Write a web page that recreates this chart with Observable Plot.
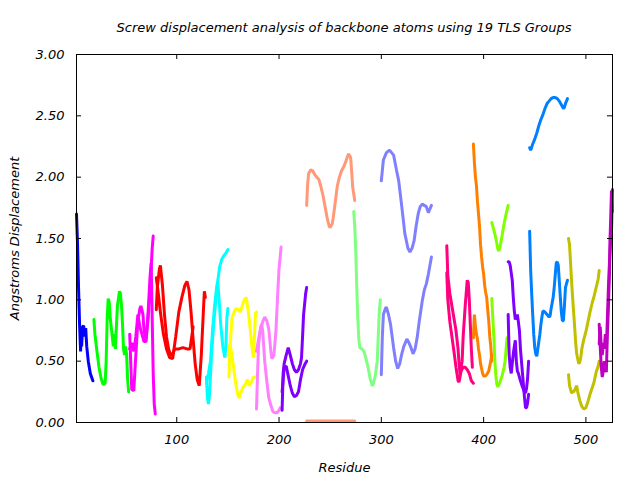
<!DOCTYPE html>
<html>
<head>
<meta charset="utf-8">
<script src="https://cdn.jsdelivr.net/npm/d3@7"></script>
<script src="https://cdn.jsdelivr.net/npm/@observablehq/plot@0.6"></script>
<style>
  html, body { margin: 0; padding: 0; background: #fff; }
  #title { width: 640px; box-sizing: border-box; padding: 20px 28px 0 76px; height: 40px;
           text-align: center; font: italic 13px "DejaVu Sans", sans-serif; color: #000; line-height: 15px; }
</style>
</head>
<body>
<div id="title">Screw displacement analysis of backbone atoms using 19 TLS Groups</div>
<div id="chart"></div>
<script>
// ---- Data (residue, displacement in Å) ----
const xTicks = [100, 200, 300, 400, 500];
const yTicks = [0, 0.5, 1.0, 1.5, 2.0, 2.5, 3.0];
const groupNames = ["TLS 1","TLS 2","TLS 3","TLS 4","TLS 5","TLS 6","TLS 7","TLS 8","TLS 9","TLS 10",
                    "TLS 11","TLS 12","TLS 13","TLS 14","TLS 15","TLS 16","TLS 17","TLS 18"];
const groupColors = ["#0000ff","#00ff00","#ff00ff","#ff0000","#00ffff","#ffff00","#ff80ff","#8000ff","#ff9978",
                     "#80ff80","#8080ff","#ff0080","#ff8000","#80ff00","#8000ff","#0080ff","#c0c000","#c000c0"];

const g1a = [[2,1.70],[3,1.46],[4,1.10],[5,0.80],[6,0.58],[6.5,0.75],[7,0.62],[8,0.78],[9,0.79],[10,0.70],[11,0.77],[12,0.62],[13.5,0.50],[15.5,0.40],[18,0.34]];
const g2a = [[19,0.84],[20,0.72],[22,0.58],[24,0.45],[26,0.36],[28,0.31],[30,0.32],[31,0.50],[32,0.85],[33,1.01],[34,0.98],[35,0.85],[37,0.70],[38,0.62],[39,0.72],[40,0.60],[41,0.78],[42,0.95],[44,1.07],[45,1.05],[46,0.95],[47,0.80],[48,0.60],[49,0.55],[50,0.62],[51,0.55],[52,0.35],[53,0.25]];
const g3a = [[54,0.72],[55,0.50],[56,0.27],[58,0.26],[60,0.55],[62,0.83],[64,0.93],[65,0.95],[67,0.88],[68,0.75],[70,0.68],[72,0.85],[74,1.10],[76,1.42],[77,1.52]];
const g3b = [[54,0.60],[56,0.65],[58,0.58],[60,0.70],[62,0.88],[64,0.78],[66,0.72],[68,0.66],[70,0.66],[72,0.90],[74,1.20],[75,1.30],[76,0.85],[77,0.40],[78,0.15],[79,0.07]];
const g4a = [[80,0.92],[81,1.10],[83,1.25],[84,1.28],[86,1.12],[88,0.88],[90,0.70],[92,0.60],[94,0.55],[96,0.56],[98,0.60],[102,0.60],[106,0.61],[110,0.60],[113,0.60],[115,0.72],[116,0.78]];
const g4b = [[80,1.18],[82,1.05],[84,0.90],[87,0.72],[90,0.60],[93,0.53],[96,0.52],[99,0.70],[102,0.90],[105,1.02],[108,1.12],[110,1.15],[112,1.08],[114,0.90],[116,0.68],[118,0.48],[120,0.35],[122,0.30],[124,0.55],[126,0.90],[127,1.07],[128,1.02]];
const g5a = [[129,0.37],[130,0.20],[131,0.15],[132,0.22],[134,0.55],[136,0.80],[138,0.98],[140,1.15],[142,1.27],[144,1.33],[146,1.36],[148,1.38],[150,1.41]];
const g5b = [[129,0.32],[131,0.40],[133,0.50],[135,0.75],[137,0.95],[139,1.10],[140,1.15],[141,1.05],[143,0.80],[145,0.62],[147,0.53],[148,0.62],[149,0.85],[150,0.93]];
const g6a = [[151,0.37],[152,0.60],[154,0.85],[156,0.90],[158,0.93],[160,0.92],[162,0.90],[164,0.95],[166,1.00],[168,1.02],[170,0.90],[172,0.75],[174,0.58],[175,0.53],[176,0.70],[177,0.89],[178,0.90]];
const g6b = [[151,0.55],[152,0.64],[154,0.55],[156,0.42],[158,0.30],[160,0.22],[161,0.20],[163,0.25],[165,0.29],[167,0.31],[169,0.35],[171,0.30],[173,0.33],[175,0.37],[177,0.37]];
const g7a = [[178,0.11],[179,0.40],[180,0.64],[182,0.78],[183,0.80],[184,0.75],[186,0.50],[188,0.34],[190,0.20],[192,0.14],[194,0.09],[196,0.08],[198,0.08],[200,0.10],[201,0.12]];
const g7b = [[178,0.58],[180,0.68],[182,0.76],[184,0.82],[186,0.86],[188,0.83],[190,0.76],[192,0.58],[193,0.52],[195,0.55],[197,0.75],[199,1.10],[200,1.25],[202,1.43]];
const g8a = [[203,0.10],[204,0.40],[205,0.48],[207,0.55],[209,0.61],[211,0.55],[213,0.48],[215,0.43],[217,0.41],[219,0.43],[221,0.48],[222,0.53],[223,0.70],[224,0.88],[226,1.05],[227,1.10]];
const g8b = [[203,0.25],[205,0.45],[207,0.46],[209,0.38],[211,0.30],[213,0.24],[215,0.21],[217,0.22],[219,0.25],[221,0.35],[223,0.43],[225,0.47],[227,0.50]];
const g9a = [[227,1.77],[228,1.95],[229,2.03],[231,2.06],[233,2.05],[235,2.02],[237,2.00],[239,1.98],[241,1.92],[243,1.85],[245,1.76],[247,1.67],[249,1.60],[250,1.59],[252,1.62],[253,1.67],[255,1.80],[257,1.93],[259,2.00],[261,2.05],[263,2.08],[265,2.12],[267,2.17],[268,2.19],[270,2.16],[271,2.05],[272,1.92],[274,1.81]];
const g9b = [[227,0.00],[274,0.00]];
const g10a = [[273,1.72],[274,1.60],[275,1.40],[276,1.10],[277,0.85],[278,0.68],[279,0.61],[281,0.60],[283,0.58],[285,0.52],[287,0.45],[289,0.36],[291,0.30],[292,0.31],[294,0.38],[296,0.50],[297,0.70],[298,0.90],[299,1.00]];
const g11a = [[300,1.97],[302,2.14],[305,2.20],[308,2.22],[310,2.20],[312,2.18],[315,2.05],[317,1.97],[320,1.76],[323,1.54],[326,1.42],[328,1.39],[330,1.42],[332,1.48],[334,1.60],[336,1.70],[338,1.76],[340,1.78],[342,1.77],[344,1.76],[346,1.71],[347,1.73],[349,1.77]];
const g11b = [[300,0.39],[301,0.70],[302,0.88],[304,0.93],[305,0.94],[307,0.88],[309,0.80],[312,0.61],[314,0.50],[316,0.44],[318,0.48],[320,0.56],[322,0.62],[325,0.68],[327,0.65],[329,0.61],[331,0.56],[333,0.60],[335,0.69],[337,0.82],[340,0.99],[342,1.08],[344,1.13],[346,1.21],[349,1.35]];
const g12a = [[364,1.44],[365,1.20],[367,1.05],[369,0.95],[371,0.85],[373,0.75],[375,0.60],[376,0.48],[377,0.39],[378,0.45],[379,0.50],[380,0.70],[382,0.95],[384,1.16],[385,1.14],[386,1.00],[387,0.80],[388,0.60],[389,0.45]];
const g12b = [[364,1.22],[365,1.00],[367,0.82],[369,0.70],[371,0.58],[373,0.45],[375,0.34],[376,0.33],[378,0.42],[380,0.45],[382,0.45],[384,0.43],[386,0.40],[388,0.34],[390,0.32]];
const g13a = [[390,2.27],[391,2.12],[392,2.00],[393,1.93],[394,1.80],[395,1.70],[396,1.60],[397,1.45],[398,1.35],[399,1.27],[400,1.21],[401,1.12],[402,1.06],[403,1.02],[404,0.92],[405,0.83],[406,0.70],[407,0.62],[408,0.50]];
const g13b = [[390,0.69],[391,0.88],[392,0.78],[393,0.72],[394,0.68],[395,0.60],[396,0.55],[397,0.48],[398,0.44],[399,0.40],[400,0.38],[402,0.38],[403,0.39],[405,0.42],[407,0.50],[408,0.55]];
const g14a = [[408,1.63],[410,1.57],[412,1.50],[414,1.41],[415,1.40],[416,1.43],[418,1.52],[420,1.62],[422,1.70],[424,1.77]];
const g14b = [[408,1.01],[409,0.85],[410,0.70],[411,0.50],[412,0.38],[413,0.31],[414,0.29],[416,0.33],[418,0.38],[420,0.45],[421,0.50],[422,0.60],[423,0.69]];
const g15a = [[424,1.31],[425,1.31],[426,1.28],[427,1.22],[428,1.16],[429,1.02],[430,0.91],[431,0.84],[432,0.86],[433,0.88],[434,0.82],[435,0.75],[436,0.60],[437,0.50],[438,0.40],[439,0.30],[440,0.20],[441,0.12],[442,0.12],[443,0.16],[444,0.23]];
const g15b = [[424,0.88],[425,0.55],[426,0.45],[427,0.40],[428,0.48],[429,0.56],[430,0.62],[431,0.67],[432,0.50],[433,0.42],[434,0.40],[436,0.34],[438,0.29],[440,0.25],[441,0.24],[442,0.28],[443,0.36],[444,0.50]];
const g16a = [[445,2.24],[446,2.22],[448,2.27],[450,2.31],[452,2.36],[454,2.42],[456,2.47],[458,2.51],[460,2.56],[462,2.60],[464,2.62],[466,2.64],[468,2.65],[470,2.65],[472,2.64],[474,2.62],[476,2.59],[478,2.56],[479,2.57],[480,2.60],[482,2.64]];
const g16b = [[445,1.56],[446,1.24],[447,1.05],[448,0.88],[449,0.72],[450,0.61],[451,0.56],[452,0.54],[453,0.60],[454,0.66],[455,0.72],[456,0.80],[457,0.86],[458,0.91],[460,0.90],[462,0.88],[464,0.86],[465,0.87],[466,0.93],[468,1.02],[469,1.10],[470,1.20],[471,1.30],[472,1.31],[473,1.28],[474,1.15],[475,1.02],[476,0.90],[477,0.83],[478,0.83],[479,0.95],[480,1.10],[482,1.16]];
const g17a = [[483,1.50],[484,1.45],[485,1.30],[486,1.15],[487,1.02],[488,0.90],[489,0.78],[490,0.65],[491,0.56],[492,0.52],[493,0.48],[494,0.49],[495,0.53],[496,0.60],[498,0.68],[500,0.74],[502,0.82],[504,0.90],[506,0.97],[508,1.03],[510,1.10],[512,1.17],[513,1.24]];
const g17b = [[483,0.39],[484,0.30],[485,0.27],[486,0.24],[487,0.25],[488,0.25],[490,0.28],[491,0.30],[492,0.25],[494,0.18],[496,0.13],[498,0.11],[500,0.12],[502,0.17],[504,0.23],[506,0.28],[508,0.33],[510,0.41],[512,0.46],[513,0.50]];
const g18a = [[513,0.80],[514,0.62],[515,0.45],[516,0.37],[517,0.42],[518,0.50],[519,0.45],[520,0.41],[521,0.72],[522,0.94],[523,1.21],[523.5,1.48],[524,1.60],[525,1.89],[526,1.72]];
const g18b = [[513,0.64],[514,0.78],[515,0.62],[516,0.55],[517,0.65],[518,0.60],[519,0.72],[520,0.60],[521,0.85],[522,1.10],[523,1.30],[524,1.45],[525,1.55],[526,1.90]];

const traces = [
  [1, g1a], [2, g2a], [3, g3a], [3, g3b], [4, g4a], [4, g4b], [5, g5a], [5, g5b],
  [6, g6a], [6, g6b], [7, g7a], [7, g7b], [8, g8a], [8, g8b], [9, g9a],
  [10, g10a], [11, g11a], [11, g11b], [12, g12a], [12, g12b], [13, g13a], [13, g13b],
  [14, g14a], [14, g14b], [15, g15a], [15, g15b], [16, g16a], [16, g16b],
  [17, g17a], [17, g17b], [18, g18a], [18, g18b]
];

const toRows = (list) => list.flatMap(([g, pts], i) =>
  pts.map(([res, val]) => ({res, val, group: groupNames[g - 1], trace: i})));
const rows = toRows(traces);
const baseRows = toRows([[9, g9b]]);   // trace lying on the zero line

// ---- Layout ----
const W = 640, H = 440;
const mL = 76, mR = 28, mT = 14, mB = 58;
const plotW = W - mL - mR, plotH = H - mT - mB;
const font = `"DejaVu Sans", sans-serif`;

const chart = Plot.plot({
  width: W, height: H,
  marginLeft: mL, marginRight: mR, marginTop: mT, marginBottom: mB,
  style: {fontFamily: font, fontSize: "13px", fontStyle: "italic", color: "#000", background: "#fff"},
  x: {domain: [2, 526]},
  y: {domain: [0, 3]},
  color: {domain: groupNames, range: groupColors},
  marks: [
    Plot.line(rows, {x: "res", y: "val", z: "trace", stroke: "group", strokeWidth: 3, strokeLinejoin: "miter"}),
    Plot.line(baseRows, {x: "res", y: "val", z: "trace", stroke: "group", strokeWidth: 3, dy: -1.5}),
    // inward ticks (all four sides)
    Plot.tickX(xTicks, {x: d => d, insetTop: plotH - 5, stroke: "#000"}),
    Plot.tickX(xTicks, {x: d => d, insetBottom: plotH - 5, stroke: "#000"}),
    Plot.tickY(yTicks, {y: d => d, insetRight: plotW - 5, stroke: "#000"}),
    Plot.tickY(yTicks, {y: d => d, insetLeft: plotW - 5, stroke: "#000"}),
    Plot.axisX({ticks: xTicks, tickSize: 0, tickPadding: 12, tickFormat: d => String(d), label: null, fontSize: 13}),
    Plot.axisY({ticks: yTicks, tickSize: 0, tickPadding: 12, tickFormat: d3.format(".2f"), label: null, fontSize: 13}),
    Plot.text(["Residue"], {frameAnchor: "bottom", dy: 45, text: d => d, fontSize: 13, textAnchor: "middle", lineAnchor: "middle"}),
    Plot.text(["Angstroms Displacement"], {frameAnchor: "left", dx: -62, rotate: -90, text: d => d, fontSize: 13, textAnchor: "middle", lineAnchor: "middle"}),
    Plot.frame({stroke: "#000", strokeWidth: 1})
  ]
});
document.getElementById("chart").appendChild(chart);
</script>
</body>
</html>
